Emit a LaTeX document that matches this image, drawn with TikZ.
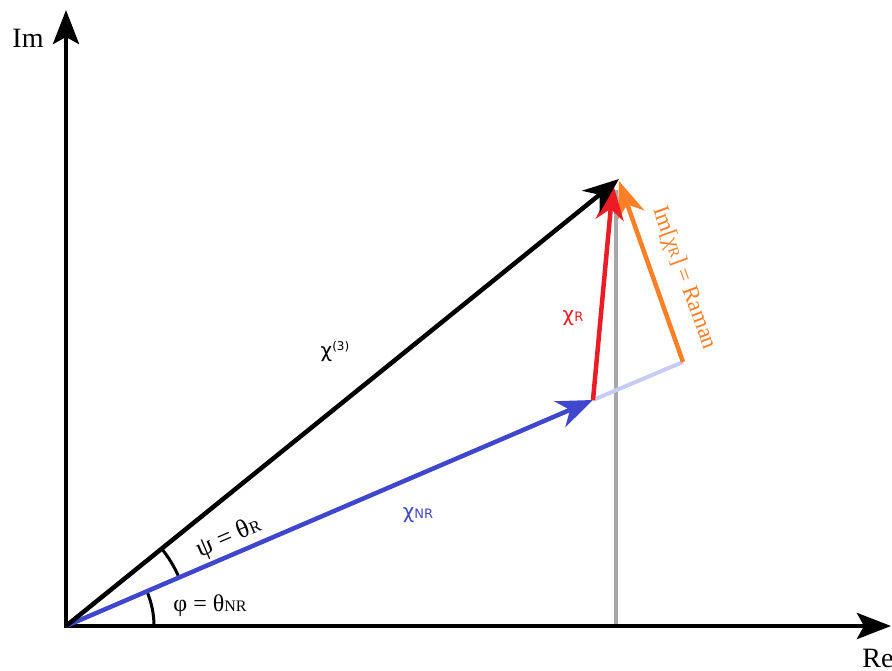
\documentclass[tikz,border=0pt]{standalone}
\usepackage{fontspec}
\setmainfont{Liberation Serif}
\newfontfamily\dvs{DejaVu Sans}
\usetikzlibrary{arrows.meta}
\definecolor{myred}{HTML}{ED1C24}
\definecolor{myblue}{HTML}{3F48CC}
\definecolor{myorange}{HTML}{FF7F27}
\definecolor{mygray}{HTML}{A8A8A8}
\definecolor{mylblue}{HTML}{C8CCF2}
\begin{document}
\begin{tikzpicture}[x=1pt,y=1pt,
  vec/.style={line width=4.5pt,-{Stealth[length=36pt,width=28pt,inset=11pt]}},
  axisline/.style={line width=4.5pt,-{Stealth[length=34pt,width=26pt,inset=7pt]}},
  ang/.style={line width=3pt},
  lbl/.style={inner sep=0pt}]
\useasboundingbox (0,0) rectangle (892,670);
% points
\coordinate (O) at (66,44);
\coordinate (ytip) at (66,660);
\coordinate (xs) at (64,44);
\coordinate (xtip) at (891,44);
\coordinate (chi3) at (619,491);
\coordinate (nr) at (593,270);
\coordinate (rtip) at (613,486);
\coordinate (ostart) at (683,308);
\coordinate (otip) at (619,489);
\coordinate (gb) at (616,44);
\coordinate (gt) at (616,480);
% gray and helper lines
\draw[mygray,line width=4pt] (gb) -- (gt);
\draw[mylblue,line width=4pt] (nr) -- (ostart);
% angle arcs
\draw[ang] (O) ++(88,0) arc[start angle=0,end angle=23.3,radius=88];
\draw[ang] (O) ++(23.3:123) arc[start angle=23.3,end angle=38.95,radius=123];
% axes
\draw[axisline] (O) -- (ytip);
\draw[axisline] (xs) -- (xtip);
% vectors
\draw[vec,myblue] (O) -- (nr);
\draw[vec,myorange] (ostart) -- (otip);
\draw[vec,myred] (nr) -- (rtip);
\draw[vec,black] (O) -- (chi3);
% labels
\node[lbl] (lim) at (28,632) {\fontsize{28}{30}\selectfont Im};
\node[lbl] (lre) at (878,12) {\fontsize{28}{30}\selectfont Re};
\node[lbl] (l3) at (335,318) {\dvs\fontsize{20}{24}\selectfont χ\raisebox{7pt}{\fontsize{12}{14}\selectfont(3)}};
\node[lbl,text=myred] (lr) at (573,352) {\dvs\fontsize{20}{24}\selectfont χ{\fontsize{13}{14}\selectfont R}};
\node[lbl,text=myblue] (lnr) at (418,155) {\dvs\fontsize{20}{24}\selectfont χ{\fontsize{13}{14}\selectfont NR}};
\node[lbl,rotate=23.3] (lpsi) at (229,132) {\fontsize{26}{28}\selectfont ψ = θ{\fontsize{17}{18}\selectfont R}};
\node[lbl] (lphi) at (210,64) {\fontsize{24}{26}\selectfont φ = θ{\fontsize{16}{18}\selectfont NR}};
\node[lbl,rotate=-70,text=myorange] (lraman) at (684,392) {\fontsize{23}{25}\selectfont Im[χ{\fontsize{15}{16}\selectfont R}] = Raman};
\end{tikzpicture}
\end{document}
